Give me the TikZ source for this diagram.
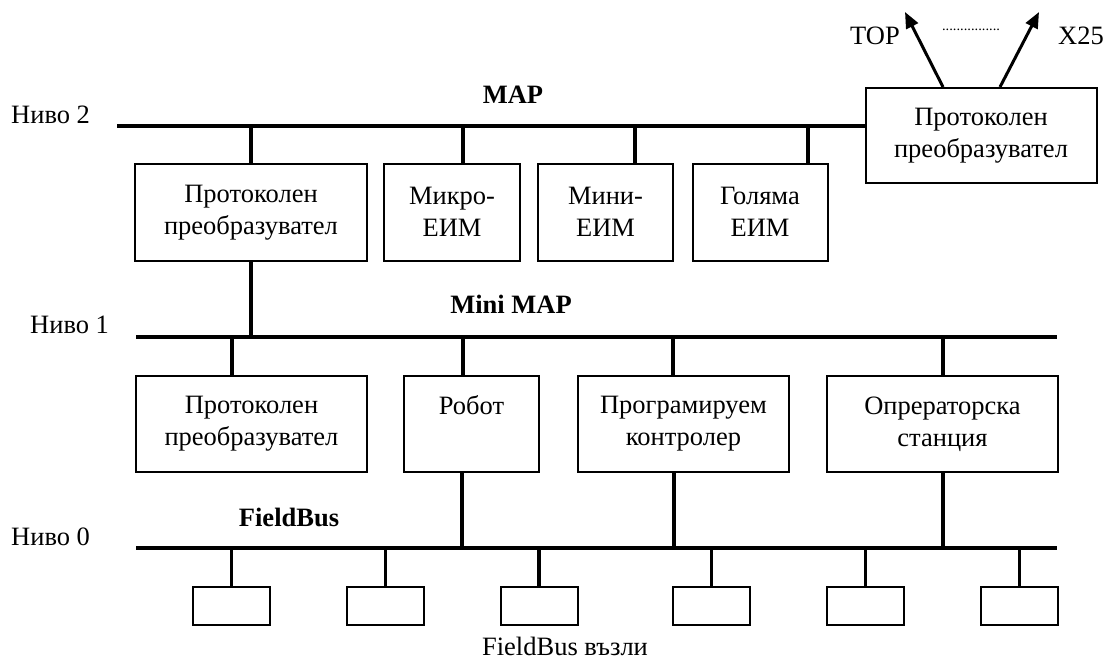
\documentclass[tikz,border=0pt]{standalone}
\usepackage{fontspec}
\setmainfont{Liberation Serif}
\usetikzlibrary{arrows.meta}

\begin{document}
\begin{tikzpicture}[x=1pt,y=-1pt,
  every node/.style={font=\fontsize{26.5}{32}\selectfont, inner sep=0pt},
  bus/.style={line width=4pt},
  drop/.style={line width=3.5pt},
  unit/.style={draw, line width=2pt, align=center},
  topbox/.style={unit, minimum height=97pt},
  midbox/.style={unit, minimum height=96pt},
  leaf/.style={unit, minimum width=77pt, minimum height=38pt},
  label/.style={anchor=base},
  buslabel/.style={anchor=base, font=\fontsize{26.5}{32}\selectfont\bfseries},
  uplink/.style={line width=3pt, -{Triangle[length=16pt,width=13pt]}}
]
\useasboundingbox (0,0) rectangle (1105,661);

% ---- Level 2: MAP ----
\node[topbox, minimum width=232pt] (pA) at (251,212.5) {Протоколен\\преобразувател};
\node[topbox, minimum width=136pt] (mk) at (452,212) {Микро-\\ЕИМ};
\node[topbox, minimum width=135pt] (mn) at (605.5,212) {Мини-\\ЕИМ};
\node[topbox, minimum width=135pt] (gl) at (760,212) {Голяма\\ЕИМ};
\node[unit, minimum width=231pt, minimum height=95pt] (pR) at (981,135.5) {Протоколен\\преобразувател};

\coordinate (mapL) at (117,126);
\draw[bus] (mapL) -- (mapL -| pR.west);
\coordinate (d2a) at (251,126);
\coordinate (d2b) at (463,126);
\coordinate (d2c) at (635,126);
\coordinate (d2d) at (808,126);
\draw[drop] (d2a) -- (d2a |- pA.north);
\draw[drop] (d2b) -- (d2b |- mk.north);
\draw[drop] (d2c) -- (d2c |- mn.north);
\draw[drop] (d2d) -- (d2d |- gl.north);

\node[label, anchor=base west] (n2) at (11,123) {Ниво 2};
\node[buslabel] (map) at (513,103) {MAP};

% outgoing links of the gateway
\coordinate (tipTop) at (905,12);
\coordinate (tipX) at (1039,12);
\draw[uplink] ([xshift=-38pt]pR.north) -- (tipTop);
\draw[uplink] ([xshift=19pt]pR.north) -- (tipX);
\node[anchor=base east] (top) at (900,45) {TOP};
\node[anchor=base west] (x25) at (1058,45) {X25};
\node[anchor=base, font=\fontsize{14.5}{16}\selectfont] (dots) at (971,31) {................};

% ---- Level 1: Mini MAP ----
\node[midbox, minimum width=231pt] (pB) at (251.5,424) {Протоколен\\преобразувател};
\node[midbox, minimum width=135pt] (rb) at (471.5,424) {Робот\\\phantom{р}};
\node[midbox, minimum width=211pt] (pk) at (683.5,424) {Програмируем\\контролер};
\node[midbox, minimum width=231pt] (op) at (942.5,424) {Опрераторска\\станция};

\coordinate (l1L) at (136,337);
\coordinate (l1R) at (1057,337);
\draw[bus] (l1L) -- (l1R);
\coordinate (up1) at (251,337);
\draw[drop] (pA.south -| up1) -- (up1);
\coordinate (d1a) at (232,337);
\coordinate (d1b) at (463,337);
\coordinate (d1c) at (673,337);
\coordinate (d1d) at (943,337);
\draw[drop] (d1a) -- (d1a |- pB.north);
\draw[drop] (d1b) -- (d1b |- rb.north);
\draw[drop] (d1c) -- (d1c |- pk.north);
\draw[drop] (d1d) -- (d1d |- op.north);

\node[label, anchor=base west] (n1) at (30,333) {Ниво 1};
\node[buslabel] (mmap) at (511,313) {Mini MAP};

% ---- Level 0: FieldBus ----
\coordinate (l0L) at (136,548);
\coordinate (l0R) at (1057,548);
\draw[bus] (l0L) -- (l0R);
\coordinate (u0a) at (462,548);
\coordinate (u0b) at (674,548);
\coordinate (u0c) at (943,548);
\draw[drop] (rb.south -| u0a) -- (u0a);
\draw[drop] (pk.south -| u0b) -- (u0b);
\draw[drop] (op.south -| u0c) -- (u0c);

\foreach \i/\x in {1/231.5, 2/385.5, 3/539, 4/711.5, 5/865.5, 6/1019.5} {
  \node[leaf] (f\i) at (\x,606) {};
  \draw[drop] (f\i.north) -- (f\i.north |- l0L);
}

\node[label, anchor=base west] (n0) at (11,545) {Ниво 0};
\node[buslabel] (fb) at (289,526) {FieldBus};
\node[label] (fbn) at (565,655) {FieldBus възли};
\end{tikzpicture}
\end{document}
